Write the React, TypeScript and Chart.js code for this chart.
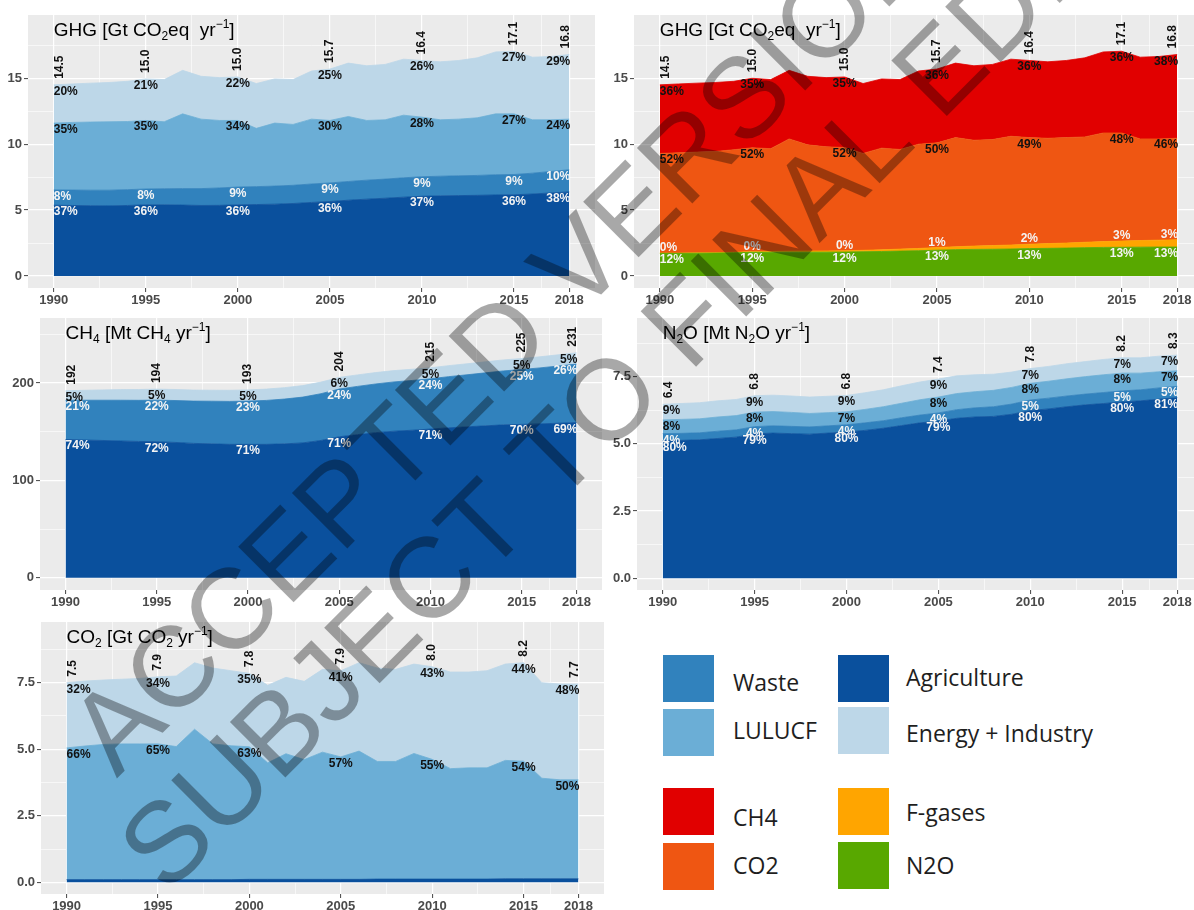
import React, { useEffect, useRef } from "react";
import { Chart, registerables } from "chart.js";
Chart.register(...registerables);

const FONT = '"Liberation Sans", Arial, Helvetica, sans-serif';

// ---------- categories ----------
const years = [
  1990, 1991, 1992, 1993, 1994, 1995, 1996, 1997, 1998, 1999,
  2000, 2001, 2002, 2003, 2004, 2005, 2006, 2007, 2008, 2009,
  2010, 2011, 2012, 2013, 2014, 2015, 2016, 2017, 2018,
];
const labelYears = [1990, 1995, 2000, 2005, 2010, 2015, 2018];
const xMajor = [1990, 1995, 2000, 2005, 2010, 2015, 2018];
const xMinor = [1992.5, 1997.5, 2002.5, 2007.5, 2012.5, 2016.5];

// ---------- GHG by sector [Gt CO2eq/yr] ----------
const ghgAgri = [5.37, 5.35, 5.33, 5.32, 5.35, 5.4, 5.4, 5.38, 5.35, 5.36, 5.4, 5.42, 5.45, 5.5, 5.58, 5.65, 5.75, 5.83, 5.9, 5.98, 6.05, 6.08, 6.1, 6.12, 6.15, 6.16, 6.22, 6.3, 6.38];
const ghgWaste = [1.16, 1.17, 1.18, 1.19, 1.2, 1.2, 1.22, 1.25, 1.28, 1.32, 1.35, 1.36, 1.37, 1.38, 1.4, 1.41, 1.42, 1.44, 1.45, 1.47, 1.48, 1.49, 1.5, 1.51, 1.53, 1.54, 1.58, 1.63, 1.68];
const ghgLulucf = [5.07, 5.13, 5.17, 5.19, 5.17, 5.2, 5.08, 5.67, 5.27, 5.12, 5.05, 4.42, 4.78, 4.62, 4.92, 4.74, 4.93, 4.53, 4.5, 4.75, 4.52, 4.28, 4.3, 4.37, 4.62, 4.6, 4.05, 3.92, 3.84];
const ghgEnergy = [2.9, 2.92, 2.95, 2.98, 3.05, 3.15, 3.2, 3.3, 3.25, 3.25, 3.3, 3.4, 3.35, 3.4, 3.65, 3.9, 4.05, 4.15, 4.2, 4.25, 4.3, 4.4, 4.45, 4.55, 4.7, 4.75, 4.75, 4.8, 4.9];
const ghgTotals = ["14.5", "15.0", "15.0", "15.7", "16.4", "17.1", "16.8"];
const ghgAgriPct = ["37%", "36%", "36%", "36%", "37%", "36%", "38%"];
const ghgWastePct = ["8%", "8%", "9%", "9%", "9%", "9%", "10%"];
const ghgLulucfPct = ["35%", "35%", "34%", "30%", "28%", "27%", "24%"];
const ghgEnergyPct = ["20%", "21%", "22%", "25%", "26%", "27%", "29%"];

// ---------- GHG by gas [Gt CO2eq/yr] ----------
const gasN2O = [1.72, 1.72, 1.73, 1.74, 1.76, 1.8, 1.8, 1.81, 1.81, 1.81, 1.82, 1.84, 1.86, 1.89, 1.92, 1.96, 2.0, 2.02, 2.03, 2.05, 2.08, 2.1, 2.12, 2.15, 2.17, 2.18, 2.19, 2.2, 2.2];
const gasF = [0.02, 0.02, 0.03, 0.03, 0.04, 0.05, 0.06, 0.07, 0.08, 0.09, 0.1, 0.11, 0.13, 0.15, 0.17, 0.2, 0.22, 0.25, 0.28, 0.3, 0.33, 0.36, 0.38, 0.41, 0.44, 0.47, 0.5, 0.52, 0.55];
const gasCO2 = [7.56, 7.61, 7.64, 7.68, 7.78, 7.88, 7.8, 8.52, 8.06, 7.9, 7.83, 7.35, 7.71, 7.56, 7.91, 7.94, 8.28, 8.03, 8.04, 8.25, 8.09, 7.99, 8.0, 7.99, 8.24, 8.2, 7.71, 7.68, 7.7];
const gasCH4 = [5.2, 5.22, 5.23, 5.23, 5.19, 5.27, 5.24, 5.2, 5.2, 5.25, 5.35, 5.3, 5.25, 5.3, 5.55, 5.6, 5.65, 5.65, 5.7, 5.85, 5.85, 5.8, 5.85, 6.0, 6.15, 6.2, 6.2, 6.25, 6.35];
const gasN2OPct = ["12%", "12%", "12%", "13%", "13%", "13%", "13%"];
const gasFPct = ["0%", "0%", "0%", "1%", "2%", "3%", "3%"];
const gasCO2Pct = ["52%", "52%", "52%", "50%", "49%", "48%", "46%"];
const gasCH4Pct = ["36%", "35%", "35%", "36%", "36%", "36%", "38%"];

// ---------- CH4 [Mt CH4/yr] ----------
const ch4Agri = [142.0, 141.5, 141.0, 140.5, 140.0, 139.7, 139.0, 138.0, 137.5, 137.0, 137.0, 137.0, 137.5, 138.5, 141.0, 144.8, 147.0, 149.0, 150.5, 151.5, 152.7, 154.0, 155.0, 156.0, 157.0, 157.5, 158.0, 158.7, 159.4];
const ch4Waste = [40.3, 40.8, 41.3, 41.8, 42.2, 42.7, 43.0, 43.4, 43.8, 44.1, 44.4, 45.1, 46.0, 47.0, 48.0, 49.0, 49.5, 50.0, 50.6, 51.1, 51.6, 52.5, 53.4, 54.4, 55.4, 56.3, 57.5, 58.7, 60.0];
const ch4Energy = [9.7, 10.2, 10.6, 10.9, 11.1, 11.3, 11.3, 11.3, 11.3, 11.4, 11.5, 11.6, 11.7, 11.8, 11.9, 11.9, 11.8, 11.7, 11.6, 11.5, 11.3, 11.3, 11.3, 11.3, 11.3, 11.3, 11.4, 11.5, 11.6];
const ch4Totals = ["192", "194", "193", "204", "215", "225", "231"];
const ch4AgriPct = ["74%", "72%", "71%", "71%", "71%", "70%", "69%"];
const ch4WastePct = ["21%", "22%", "23%", "24%", "24%", "25%", "26%"];
const ch4EnergyPct = ["5%", "5%", "5%", "6%", "5%", "5%", "5%"];

// ---------- N2O [Mt N2O/yr] ----------
const n2oAgri = [5.12, 5.13, 5.15, 5.2, 5.25, 5.37, 5.4, 5.38, 5.36, 5.4, 5.44, 5.5, 5.58, 5.68, 5.78, 5.85, 5.95, 6.0, 6.02, 6.1, 6.24, 6.3, 6.38, 6.45, 6.5, 6.56, 6.6, 6.66, 6.72];
const n2oWaste = [0.26, 0.26, 0.26, 0.27, 0.27, 0.27, 0.27, 0.27, 0.27, 0.27, 0.27, 0.28, 0.28, 0.29, 0.29, 0.3, 0.32, 0.34, 0.36, 0.38, 0.39, 0.4, 0.4, 0.4, 0.41, 0.41, 0.41, 0.42, 0.42];
const n2oLulucf = [0.51, 0.52, 0.52, 0.53, 0.53, 0.54, 0.53, 0.52, 0.5, 0.49, 0.48, 0.5, 0.52, 0.54, 0.57, 0.59, 0.6, 0.6, 0.61, 0.62, 0.62, 0.63, 0.64, 0.65, 0.66, 0.66, 0.62, 0.6, 0.58];
const n2oEnergy = [0.58, 0.59, 0.6, 0.6, 0.6, 0.61, 0.61, 0.61, 0.61, 0.61, 0.61, 0.62, 0.63, 0.65, 0.66, 0.67, 0.66, 0.63, 0.6, 0.57, 0.55, 0.55, 0.56, 0.56, 0.57, 0.57, 0.57, 0.58, 0.58];
const n2oTotals = ["6.4", "6.8", "6.8", "7.4", "7.8", "8.2", "8.3"];
const n2oAgriPct = ["80%", "79%", "80%", "79%", "80%", "80%", "81%"];
const n2oWastePct = ["4%", "4%", "4%", "4%", "5%", "5%", "5%"];
const n2oLulucfPct = ["8%", "8%", "7%", "8%", "8%", "8%", "7%"];
const n2oEnergyPct = ["9%", "9%", "9%", "9%", "7%", "7%", "7%"];

// ---------- CO2 [Gt CO2/yr] ----------
const co2Agri = [0.1, 0.1, 0.1, 0.1, 0.1, 0.1, 0.1, 0.1, 0.1, 0.1, 0.11, 0.11, 0.11, 0.11, 0.11, 0.11, 0.11, 0.12, 0.12, 0.12, 0.12, 0.12, 0.12, 0.12, 0.13, 0.13, 0.13, 0.13, 0.13];
const co2Lulucf = [4.95, 5.02, 5.08, 5.1, 5.1, 5.1, 5.0, 5.65, 5.1, 5.03, 4.98, 4.38, 4.72, 4.5, 4.78, 4.6, 4.82, 4.42, 4.42, 4.72, 4.5, 4.15, 4.18, 4.18, 4.45, 4.42, 3.78, 3.72, 3.72];
const co2Energy = [2.45, 2.44, 2.42, 2.43, 2.46, 2.52, 2.65, 2.5, 2.85, 2.82, 2.76, 2.91, 2.87, 2.94, 3.11, 3.24, 3.32, 3.51, 3.46, 3.36, 3.48, 3.63, 3.6, 3.65, 3.62, 3.7, 3.59, 3.6, 3.6];
const co2Totals = ["7.5", "7.9", "7.8", "7.9", "8.0", "8.2", "7.7"];
const co2LulucfPct = ["66%", "65%", "63%", "57%", "55%", "54%", "50%"];
const co2EnergyPct = ["32%", "34%", "35%", "41%", "43%", "44%", "48%"];

// ---------- watermark text ----------
const watermarkLines = ["ACCEPTED VERSION", "SUBJECT TO FINAL EDITS"];

// ---------- colours ----------
const C_AGRI = "#0a509d";
const C_WASTE = "#3182bd";
const C_LULUCF = "#6baed6";
const C_ENERGY = "#bdd7e8";
const C_CH4 = "#e10000";
const C_CO2 = "#ef5612";
const C_FGAS = "#ffa500";
const C_N2O = "#58a800";
const WHITE_TXT = "#f4f4f4";
const BLACK_TXT = "#111111";

type Seg = { t: string; s?: "sub" | "sup" };
type Series = { data: number[]; color: string; pct?: string[]; pctColor?: string; above?: boolean };
type PanelDef = {
  plotLeft: number; plotTop: number; plotW: number; plotH: number; yW: number;
  yMin: number; yMax: number; yMajor: number[]; yMinor: number[]; yDigits: number;
  series: Series[]; totals: string[]; title: Seg[];
};

const ghgTitle: Seg[] = [{ t: "GHG [Gt CO" }, { t: "2", s: "sub" }, { t: "eq  yr" }, { t: "−1", s: "sup" }, { t: "]" }];
const ch4Title: Seg[] = [{ t: "CH" }, { t: "4", s: "sub" }, { t: " [Mt CH" }, { t: "4", s: "sub" }, { t: " yr" }, { t: "−1", s: "sup" }, { t: "]" }];
const n2oTitle: Seg[] = [{ t: "N" }, { t: "2", s: "sub" }, { t: "O [Mt N" }, { t: "2", s: "sub" }, { t: "O yr" }, { t: "−1", s: "sup" }, { t: "]" }];
const co2Title: Seg[] = [{ t: "CO" }, { t: "2", s: "sub" }, { t: " [Gt CO" }, { t: "2", s: "sub" }, { t: " yr" }, { t: "−1", s: "sup" }, { t: "]" }];

const X_MIN = 1988.6;
const X_MAX = 2019.4;
const TOP_PAD = 12;
const X_AXIS_H = 22;

const panels: PanelDef[] = [
  {
    plotLeft: 28, plotTop: 15, plotW: 567, plotH: 273, yW: 28,
    yMin: -0.91, yMax: 19.8, yMajor: [0, 5, 10, 15], yMinor: [2.5, 7.5, 12.5, 17.5], yDigits: 0,
    series: [
      { data: ghgAgri, color: C_AGRI, pct: ghgAgriPct, pctColor: WHITE_TXT },
      { data: ghgWaste, color: C_WASTE, pct: ghgWastePct, pctColor: WHITE_TXT },
      { data: ghgLulucf, color: C_LULUCF, pct: ghgLulucfPct, pctColor: BLACK_TXT },
      { data: ghgEnergy, color: C_ENERGY, pct: ghgEnergyPct, pctColor: BLACK_TXT },
    ],
    totals: ghgTotals, title: ghgTitle,
  },
  {
    plotLeft: 634, plotTop: 15, plotW: 569, plotH: 273, yW: 28,
    yMin: -0.91, yMax: 19.8, yMajor: [0, 5, 10, 15], yMinor: [2.5, 7.5, 12.5, 17.5], yDigits: 0,
    series: [
      { data: gasN2O, color: C_N2O, pct: gasN2OPct, pctColor: WHITE_TXT },
      { data: gasF, color: C_FGAS, pct: gasFPct, pctColor: WHITE_TXT, above: true },
      { data: gasCO2, color: C_CO2, pct: gasCO2Pct, pctColor: BLACK_TXT },
      { data: gasCH4, color: C_CH4, pct: gasCH4Pct, pctColor: BLACK_TXT },
    ],
    totals: ghgTotals, title: ghgTitle,
  },
  {
    plotLeft: 40, plotTop: 318, plotW: 562, plotH: 272, yW: 40,
    yMin: -12.5, yMax: 266.7, yMajor: [0, 100, 200], yMinor: [50, 150, 250], yDigits: 0,
    series: [
      { data: ch4Agri, color: C_AGRI, pct: ch4AgriPct, pctColor: WHITE_TXT },
      { data: ch4Waste, color: C_WASTE, pct: ch4WastePct, pctColor: WHITE_TXT },
      { data: ch4Energy, color: C_ENERGY, pct: ch4EnergyPct, pctColor: BLACK_TXT },
    ],
    totals: ch4Totals, title: ch4Title,
  },
  {
    plotLeft: 637, plotTop: 318, plotW: 566, plotH: 272, yW: 32,
    yMin: -0.435, yMax: 9.68, yMajor: [0, 2.5, 5, 7.5], yMinor: [1.25, 3.75, 6.25, 8.75], yDigits: 1,
    series: [
      { data: n2oAgri, color: C_AGRI, pct: n2oAgriPct, pctColor: WHITE_TXT },
      { data: n2oWaste, color: C_WASTE, pct: n2oWastePct, pctColor: WHITE_TXT },
      { data: n2oLulucf, color: C_LULUCF, pct: n2oLulucfPct, pctColor: BLACK_TXT },
      { data: n2oEnergy, color: C_ENERGY, pct: n2oEnergyPct, pctColor: BLACK_TXT },
    ],
    totals: n2oTotals, title: n2oTitle,
  },
  {
    plotLeft: 41, plotTop: 622, plotW: 563, plotH: 272, yW: 41,
    yMin: -0.44, yMax: 9.78, yMajor: [0, 2.5, 5, 7.5], yMinor: [1.25, 3.75, 6.25, 8.75], yDigits: 1,
    series: [
      { data: co2Agri, color: C_AGRI },
      { data: co2Lulucf, color: C_LULUCF, pct: co2LulucfPct, pctColor: BLACK_TXT },
      { data: co2Energy, color: C_ENERGY, pct: co2EnergyPct, pctColor: BLACK_TXT },
    ],
    totals: co2Totals, title: co2Title,
  },
];

const legendLabels = ["Waste", "LULUCF", "Agriculture", "Energy + Industry", "CH4", "CO2", "F-gases", "N2O"];
const legendColors = [C_WASTE, C_LULUCF, C_AGRI, C_ENERGY, C_CH4, C_CO2, C_FGAS, C_N2O];

function drawSegments(ctx: CanvasRenderingContext2D, segs: Seg[], x: number, y: number) {
  let cx = x;
  ctx.textAlign = "left";
  ctx.textBaseline = "alphabetic";
  ctx.fillStyle = "#000";
  for (const s of segs) {
    let dy = 0;
    if (s.s === "sub") { ctx.font = `12px ${FONT}`; dy = 4; }
    else if (s.s === "sup") { ctx.font = `12px ${FONT}`; dy = -8; }
    else ctx.font = `19px ${FONT}`;
    ctx.fillText(s.t, cx, y + dy);
    cx += ctx.measureText(s.t).width;
  }
}

function Panel({ def }: { def: PanelDef }) {
  const ref = useRef<HTMLCanvasElement | null>(null);
  const cw = def.yW + def.plotW;
  const ch = TOP_PAD + def.plotH + X_AXIS_H;

  useEffect(() => {
    const canvas = ref.current;
    if (!canvas) return;
    const isMajorX = (v: number) => xMajor.includes(v);
    const isMajorY = (v: number) => def.yMajor.includes(v);
    const last = labelYears.length - 1;

    const bgPlugin = {
      id: "bg",
      beforeDraw(chart: any) {
        const { ctx, chartArea: a } = chart;
        ctx.save();
        ctx.fillStyle = "#ebebeb";
        ctx.fillRect(a.left, a.top, a.right - a.left, a.bottom - a.top);
        ctx.restore();
      },
    };

    const labelPlugin = {
      id: "labels",
      afterDatasetsDraw(chart: any) {
        const ctx: CanvasRenderingContext2D = chart.ctx;
        const xs = chart.scales.x;
        const ys = chart.scales.y;
        ctx.save();
        labelYears.forEach((yr, k) => {
          const j = years.indexOf(yr);
          const px = xs.getPixelForValue(yr);
          let cum = 0;
          def.series.forEach((s) => {
            cum += s.data[j];
            if (!s.pct) return;
            const py = ys.getPixelForValue(cum);
            ctx.font = `bold 12px ${FONT}`;
            ctx.fillStyle = s.pctColor || BLACK_TXT;
            ctx.textBaseline = "alphabetic";
            ctx.textAlign = k === 0 ? "left" : k === last ? "right" : "center";
            const ty = s.above ? py - 2 : py + 10;
            ctx.fillText(s.pct[k], px + (k === last ? 1 : 0), ty);
          });
          const pt = ys.getPixelForValue(cum);
          ctx.save();
          ctx.translate(px + (k === 0 ? 6 : k === last ? -4 : 0), pt - 6);
          ctx.rotate(-Math.PI / 2);
          ctx.font = `bold 12px ${FONT}`;
          ctx.fillStyle = BLACK_TXT;
          ctx.textAlign = "left";
          ctx.textBaseline = "middle";
          ctx.fillText(def.totals[k], 0, 0);
          ctx.restore();
        });
        drawSegments(ctx, def.title, xs.getPixelForValue(1990), chart.chartArea.top + 21);
        ctx.restore();
      },
    };

    const datasets = def.series.map((s, i) => ({
      data: years.map((yr, j) => ({ x: yr, y: s.data[j] })),
      backgroundColor: s.color,
      borderColor: s.color,
      borderWidth: 0.8,
      pointRadius: 0,
      fill: i === 0 ? "origin" : "-1",
      tension: 0,
    }));

    const tickFont = { family: FONT, size: 13, weight: "bold" as const };

    const chart = new Chart(canvas, {
      type: "line",
      data: { datasets: datasets as any },
      options: {
        animation: false,
        responsive: false,
        devicePixelRatio: 1,
        events: [],
        layout: { padding: { top: TOP_PAD, left: 0, right: 0, bottom: 0 } },
        plugins: { legend: { display: false }, tooltip: { enabled: false }, title: { display: false } },
        scales: {
          x: {
            type: "linear",
            min: X_MIN,
            max: X_MAX,
            afterBuildTicks: (sc: any) => {
              sc.ticks = [...xMajor, ...xMinor].sort((a, b) => a - b).map((v) => ({ value: v }));
            },
            afterFit: (sc: any) => { sc.height = X_AXIS_H; },
            ticks: {
              autoSkip: false, maxRotation: 0, minRotation: 0, padding: 1,
              color: "#4a4a4a", font: tickFont,
              callback: (v: any) => (isMajorX(Number(v)) ? String(v) : ""),
            },
            grid: {
              color: "#ffffff",
              lineWidth: (c: any) => (c.tick && isMajorX(c.tick.value) ? 1.2 : 0.6),
              drawTicks: true,
              tickLength: 4,
              tickWidth: 1,
              tickColor: (c: any) => (c.tick && isMajorX(c.tick.value) ? "#444" : "rgba(0,0,0,0)"),
            },
            border: { display: false },
          },
          y: {
            type: "linear",
            stacked: true,
            min: def.yMin,
            max: def.yMax,
            afterBuildTicks: (sc: any) => {
              sc.ticks = [...def.yMajor, ...def.yMinor].sort((a, b) => a - b).map((v) => ({ value: v }));
            },
            afterFit: (sc: any) => { sc.width = def.yW; },
            ticks: {
              autoSkip: false, padding: 2, color: "#4a4a4a", font: tickFont,
              callback: (v: any) => (isMajorY(Number(v)) ? Number(v).toFixed(def.yDigits) : ""),
            },
            grid: {
              color: "#ffffff",
              lineWidth: (c: any) => (c.tick && isMajorY(c.tick.value) ? 1.2 : 0.6),
              drawTicks: true,
              tickLength: 4,
              tickWidth: 1,
              tickColor: (c: any) => (c.tick && isMajorY(c.tick.value) ? "#444" : "rgba(0,0,0,0)"),
            },
            border: { display: false },
          },
        },
      } as any,
      plugins: [bgPlugin, labelPlugin],
    });
    return () => chart.destroy();
  }, []);

  return (
    <canvas
      ref={ref}
      width={cw}
      height={ch}
      style={{ position: "absolute", left: def.plotLeft - def.yW, top: def.plotTop - TOP_PAD, width: cw, height: ch }}
    />
  );
}

function Legend() {
  const boxX = [663, 663, 838, 838, 663, 663, 838, 838];
  const boxY = [655, 709, 655, 707, 788, 843, 788, 842];
  const textX = [733, 733, 906, 906, 733, 733, 906, 906];
  const textY = [682, 730, 677, 733, 817, 865, 812, 865];
  return (
    <>
      {legendLabels.map((lab, i) => (
        <React.Fragment key={lab}>
          <div style={{ position: "absolute", left: boxX[i], top: boxY[i], width: 51, height: 47, background: legendColors[i] }} />
          <div
            style={{
              position: "absolute", left: textX[i], top: textY[i] - 16, height: 32, lineHeight: "32px",
              fontFamily: '"Open Sans", "Noto Sans", sans-serif', fontSize: 23, color: "#1e1e1e", whiteSpace: "nowrap",
            }}
          >
            {lab}
          </div>
        </React.Fragment>
      ))}
    </>
  );
}

function Watermark() {
  const ref = useRef<HTMLCanvasElement | null>(null);
  useEffect(() => {
    const c = ref.current;
    if (!c) return;
    const ctx = c.getContext("2d");
    if (!ctx) return;
    const fs = 114;
    const starts = [[88, 750], [138, 867]];
    ctx.clearRect(0, 0, c.width, c.height);
    ctx.font = `${fs}px ${FONT}`;
    ctx.fillStyle = "rgba(0,0,0,0.34)";
    ctx.textAlign = "left";
    ctx.textBaseline = "alphabetic";
    watermarkLines.forEach((t, i) => {
      ctx.save();
      ctx.translate(starts[i][0], starts[i][1]);
      ctx.rotate(-Math.PI / 4);
      ctx.fillText(t, 0, fs * 0.358);
      ctx.restore();
    });
  }, []);
  return (
    <canvas
      ref={ref}
      width={1194}
      height={910}
      style={{ position: "absolute", left: 0, top: 0, width: 1194, height: 910, pointerEvents: "none" }}
    />
  );
}

export default function App() {
  return (
    <div style={{ position: "fixed", left: 0, top: 0, width: 1194, height: 910, overflow: "hidden", background: "#ffffff" }}>
      {panels.map((p, i) => (
        <Panel key={i} def={p} />
      ))}
      <Legend />
      <Watermark />
    </div>
  );
}
